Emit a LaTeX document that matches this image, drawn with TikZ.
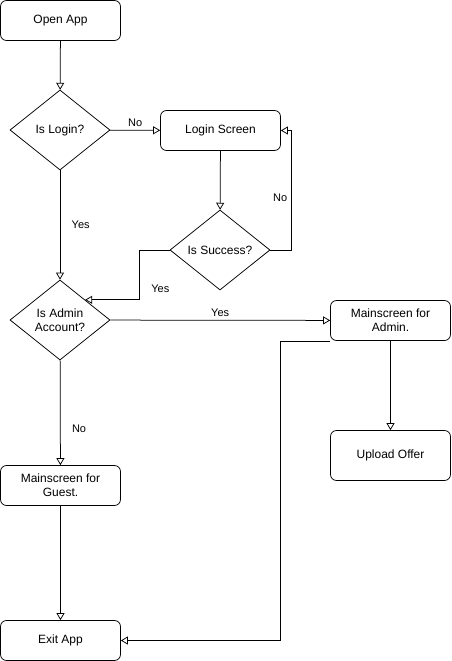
\documentclass[tikz,border=0pt]{standalone}
\usepackage{fontspec}
\setmainfont{Liberation Sans}
\usepackage{tikz}
\usetikzlibrary{arrows.meta, shapes.geometric, positioning, calc}

\begin{document}
\begin{tikzpicture}[x=1pt, y=-1pt, line width=0.75pt,
	box/.style={draw, rounded corners=6pt, minimum width=120pt, minimum height=40pt, inner sep=0pt, align=center, font=\fontsize{12}{14}\selectfont},
	decision/.style={draw, diamond, aspect=1.25, minimum width=100pt, minimum height=80pt, inner sep=0pt, align=center, font=\fontsize{12}{14}\selectfont},
	flow/.style={-{Triangle[open, width=8pt, length=7pt]}},
	lbl/.style={font=\fontsize{11}{13}\selectfont}]

	\useasboundingbox (0,0) rectangle (451,661);

% draw boxes
	\node[box] (open) at (60.5,20.5) {Open App};
	\node[decision] (login) at (60,130) {Is Login?};
	\node[box] (loginscr) at (220.5,130.5) {Login Screen};
	\node[decision] (success) at (220,250) {Is Success?};
	\node[decision] (admin) at (60,320) {Is Admin\\Account?};
	\node[box] (adminscr) at (390.5,320.5) {Mainscreen for\\Admin.};
	\node[box, minimum height=50pt] (upload) at (390.5,455.5) {Upload Offer};
	\node[box] (guest) at (60.5,485.5) {Mainscreen for\\Guest.};
	\node[box] (exit) at (60.5,640.5) {Exit App};

	\coordinate (adminne) at ($(admin.north)!0.5!(admin.east)$);

% draw flow lines
	\draw[flow] (open) -- (login);
	\draw[flow] (login) -- node[lbl, above] {No} (loginscr);
	\draw[flow] (loginscr) -- (success);
	\draw[flow] (success.east) -| ([xshift=10pt]loginscr.east) 
		node[lbl, pos=0.72, left] {No} -- (loginscr.east);
	\draw[flow] (success.west) -- ++(-30,0) |- (adminne)
		node[lbl, pos=0.5, anchor=south west, xshift=8pt, yshift=4pt] {Yes};
	\draw[flow] (login) -- node[lbl, right=8pt] {Yes} (admin);
	\draw[flow] (admin) -- node[lbl, above] {Yes} (adminscr);
	\draw[flow] (admin) -- node[lbl, pos=0.65, right=8pt] {No} (guest);
	\draw[flow] (adminscr) -- (upload);
	\draw[flow] (adminscr.south west) -- ++(-50,0) |- (exit);
	\draw[flow] (guest) -- (exit);

\end{tikzpicture}
\end{document}
